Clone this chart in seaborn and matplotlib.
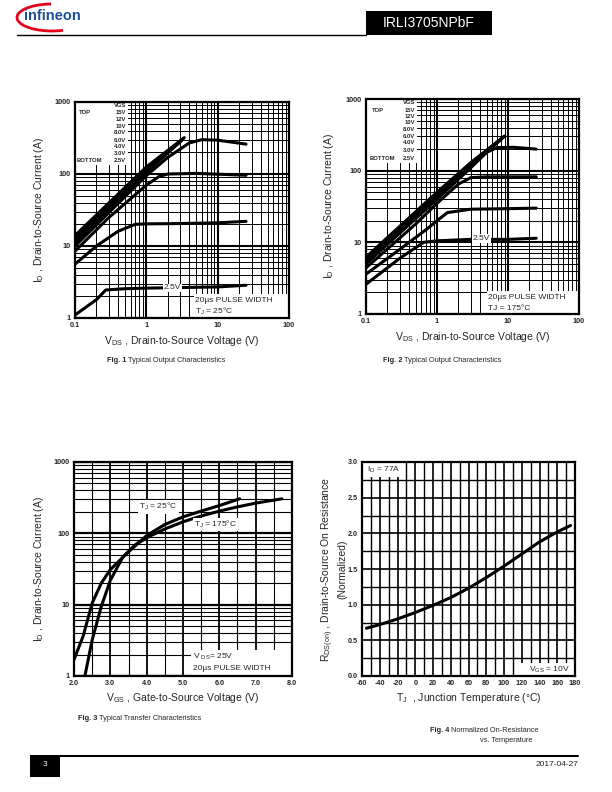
import numpy as np
import pandas as pd
import matplotlib
matplotlib.use("Agg")
import matplotlib.pyplot as plt
import seaborn as sns
from matplotlib.patches import Rectangle, Arc
from matplotlib.lines import Line2D
from matplotlib.ticker import LogLocator, MultipleLocator, NullFormatter

# ---- Fig. 1: output characteristics, TJ = 25 C ----
f1_vds_15v = [0.1, 1.0, 3.4]
f1_id_15v = [14, 125, 320]
f1_vds_12v = [0.1, 1.0, 3.3]
f1_id_12v = [13, 118, 310]
f1_vds_10v = [0.1, 1.0, 3.2]
f1_id_10v = [12, 112, 300]
f1_vds_8v = [0.1, 1.0, 3.1]
f1_id_8v = [11, 105, 290]
f1_vds_6v = [0.1, 1.0, 2.0, 4.0, 6.0, 10, 25]
f1_id_6v = [10, 95, 170, 270, 300, 295, 260]
f1_vds_4v = [0.1, 0.3, 1.0, 1.5, 2.0, 5.0, 25]
f1_id_4v = [8.5, 25, 70, 92, 100, 102, 96]
f1_vds_3v = [0.1, 0.2, 0.4, 0.7, 1.0, 3.0, 10, 25]
f1_id_3v = [5.6, 10, 16, 20, 20.3, 20.5, 21, 22]
f1_vds_25v = [0.1, 0.2, 0.27, 0.5, 1.0, 3.0, 10, 25]
f1_id_25v = [1.1, 1.8, 2.45, 2.55, 2.6, 2.65, 2.7, 2.85]

# ---- Fig. 2: output characteristics, TJ = 175 C ----
f2_vds_15v = [0.1, 1.0, 3.0, 9.0]
f2_id_15v = [6.2, 50, 130, 305]
f2_vds_12v = [0.1, 1.0, 3.0, 8.8]
f2_id_12v = [6.0, 48, 125, 300]
f2_vds_10v = [0.1, 1.0, 3.0, 8.5]
f2_id_10v = [5.7, 46, 120, 290]
f2_vds_8v = [0.1, 1.0, 3.0, 8.2]
f2_id_8v = [5.4, 44, 115, 280]
f2_vds_6v = [0.1, 1.0, 3.0, 5.0, 7.0, 12, 25]
f2_id_6v = [5.0, 40, 110, 180, 210, 212, 200]
f2_vds_4v = [0.1, 0.5, 1.0, 2.0, 3.0, 5.0, 25]
f2_id_4v = [4.4, 18, 35, 65, 80, 82, 82]
f2_vds_3v = [0.1, 0.3, 0.7, 1.0, 1.4, 3.0, 10, 25]
f2_id_3v = [3.6, 8.0, 15, 20, 26, 29, 29.5, 30]
f2_vds_25v = [0.1, 0.3, 0.65, 1.0, 3.0, 10, 25]
f2_id_25v = [2.6, 6.0, 10, 10.5, 11, 11, 11.4]

vgs_names = ["15V", "12V", "10V", "8.0V", "6.0V", "4.0V", "3.0V", "2.5V"]

# ---- Fig. 3: transfer characteristics ----
f3_vgs_25c = [2.0, 2.25, 2.5, 2.75, 3.0, 3.5, 4.0, 4.5, 5.0, 5.5, 6.0, 6.56]
f3_id_25c = [1.7, 3.6, 10.5, 20, 31, 55, 93, 133, 170, 205, 245, 305]
f3_vgs_175c = [2.3, 2.5, 2.75, 3.0, 3.35, 3.7, 4.1, 4.5, 5.0, 5.5, 6.0, 6.5, 7.0, 7.72]
f3_id_175c = [1.0, 3.2, 9.4, 22, 47, 70, 92, 115, 145, 175, 205, 235, 265, 305]

# ---- Fig. 4: normalized on-resistance ----
f4_tj = [-55, -40, -20, 0, 20, 40, 60, 80, 100, 120, 140, 160, 175]
f4_rds = [0.67, 0.72, 0.80, 0.89, 0.99, 1.10, 1.23, 1.38, 1.54, 1.71, 1.88, 2.02, 2.11]

log_ticks_x = [0.1, 1, 10, 100]
log_ticks_x_labels = ["0.1", "1", "10", "100"]
log_ticks_y = [1, 10, 100, 1000]
log_ticks_y_labels = ["1", "10", "100", "1000"]

sns.set_style("white")
plt.rcParams["font.family"] = ["Liberation Sans", "DejaVu Sans"]
plt.rcParams["mathtext.default"] = "regular"

W, H = 612, 792
fig = plt.figure(figsize=(W / 100, H / 100), dpi=100)


def px_axes(left, top, right, bottom):
    return fig.add_axes([left / W, 1 - bottom / H, (right - left) / W, (bottom - top) / H])


def curves_df(pairs):
    rows = []
    for name, xs, ys in pairs:
        for x, y in zip(xs, ys):
            rows.append({"vgs": name, "x": x, "y": y})
    return pd.DataFrame(rows)


def style_frame(ax):
    for s in ax.spines.values():
        s.set_linewidth(1.6)
        s.set_color("black")
        s.set_zorder(6)
    ax.tick_params(which="both", length=0, labelsize=5.2, pad=3)
    for lab in ax.get_xticklabels() + ax.get_yticklabels():
        lab.set_fontweight("bold")


def log_log(ax):
    ax.set_xscale("log")
    ax.set_yscale("log")
    ax.set_xlim(0.1, 100)
    ax.set_ylim(1, 1000)
    ax.set_xticks(log_ticks_x, labels=log_ticks_x_labels)
    ax.set_yticks(log_ticks_y, labels=log_ticks_y_labels)
    ax.xaxis.set_minor_locator(LogLocator(base=10, subs=np.arange(2, 10)))
    ax.yaxis.set_minor_locator(LogLocator(base=10, subs=np.arange(2, 10)))
    ax.xaxis.set_minor_formatter(NullFormatter())
    ax.yaxis.set_minor_formatter(NullFormatter())
    ax.grid(which="major", color="black", lw=1.5)
    ax.grid(which="minor", color="black", lw=0.7)


def white_block(ax, x0, y0, w, h):
    ax.add_patch(Rectangle((x0, y0), w, h, transform=ax.transAxes, facecolor="white",
                           edgecolor="none", zorder=3))


def vgs_legend(ax, ys, left_px, right_px, x0, x1, top_y, bot_y):
    # white block with the VGS list, coordinates in page pixels
    ax.add_patch(Rectangle((x0 / W, 1 - bot_y / H), (x1 - x0) / W, (bot_y - top_y) / H,
                           facecolor="white", edgecolor="none", zorder=3,
                           transform=fig.transFigure))
    kw = dict(fontsize=4.2, fontweight="bold", va="center", zorder=4,
              transform=fig.transFigure)
    ax.text(right_px / W, 1 - ys[0] / H, "VGS", ha="right", **kw)
    for name, y in zip(vgs_names, ys[1:]):
        ax.text(right_px / W, 1 - y / H, name, ha="right", **kw)
    ax.text(left_px / W, 1 - ys[1] / H, "TOP", ha="left", **kw)
    ax.text((left_px - 2) / W, 1 - ys[-1] / H, "BOTTOM", ha="left", **kw)


# ---------------- Fig. 1 ----------------
ax1 = px_axes(75, 102, 289, 318)
df1 = curves_df([
    ("15V", f1_vds_15v, f1_id_15v), ("12V", f1_vds_12v, f1_id_12v),
    ("10V", f1_vds_10v, f1_id_10v), ("8.0V", f1_vds_8v, f1_id_8v),
    ("6.0V", f1_vds_6v, f1_id_6v), ("4.0V", f1_vds_4v, f1_id_4v),
    ("3.0V", f1_vds_3v, f1_id_3v), ("2.5V", f1_vds_25v, f1_id_25v),
])
sns.lineplot(data=df1, x="x", y="y", units="vgs", estimator=None, sort=False,
             color="black", lw=2.2, ax=ax1, zorder=2)
log_log(ax1)
ax1.set_xlabel(r"V$_{DS}$ , Drain-to-Source Voltage (V)", fontsize=7.5)
ax1.set_ylabel(r"I$_{D}$ , Drain-to-Source Current (A)", fontsize=7.5)
ax1.xaxis.set_label_coords(0.5, -0.075)
ax1.yaxis.set_label_coords(-0.135, 0.5)
ax1.text(2.3, 2.62, "2.5V", fontsize=6, ha="center", va="center",
         bbox=dict(facecolor="white", edgecolor="none", pad=0.6), zorder=4)
white_block(ax1, 0.556, 0.0, 0.444, 0.11)
ax1.text(0.56, 0.082, "20\u00b5s PULSE WIDTH", transform=ax1.transAxes, fontsize=6,
         ha="left", va="center", zorder=4)
ax1.text(0.56, 0.03, r"T$_{J}$ = 25°C", transform=ax1.transAxes, fontsize=6,
         ha="left", va="center", zorder=4)
style_frame(ax1)
vgs_legend(ax1, [105.5, 113, 119.5, 126, 133, 140, 147, 153.5, 160.5], 79, 126, 75, 128, 102, 165)

# ---------------- Fig. 2 ----------------
ax2 = px_axes(366, 99, 579, 314)
df2 = curves_df([
    ("15V", f2_vds_15v, f2_id_15v), ("12V", f2_vds_12v, f2_id_12v),
    ("10V", f2_vds_10v, f2_id_10v), ("8.0V", f2_vds_8v, f2_id_8v),
    ("6.0V", f2_vds_6v, f2_id_6v), ("4.0V", f2_vds_4v, f2_id_4v),
    ("3.0V", f2_vds_3v, f2_id_3v), ("2.5V", f2_vds_25v, f2_id_25v),
])
sns.lineplot(data=df2, x="x", y="y", units="vgs", estimator=None, sort=False,
             color="black", lw=2.2, ax=ax2, zorder=2)
log_log(ax2)
ax2.set_xlabel(r"V$_{DS}$ , Drain-to-Source Voltage (V)", fontsize=7.5)
ax2.set_ylabel(r"I$_{D}$ , Drain-to-Source Current (A)", fontsize=7.5)
ax2.xaxis.set_label_coords(0.5, -0.075)
ax2.yaxis.set_label_coords(-0.14, 0.5)
ax2.text(4.2, 11.2, "2.5V", fontsize=6, ha="center", va="center",
         bbox=dict(facecolor="white", edgecolor="none", pad=0.6), zorder=4)
white_block(ax2, 0.568, 0.0, 0.432, 0.105)
ax2.text(0.573, 0.077, "20\u00b5s PULSE WIDTH", transform=ax2.transAxes, fontsize=6,
         ha="left", va="center", zorder=4)
ax2.text(0.573, 0.027, "TJ = 175°C", transform=ax2.transAxes, fontsize=6,
         ha="left", va="center", zorder=4)
style_frame(ax2)
vgs_legend(ax2, [103, 110, 116, 122.5, 129.5, 136, 143, 150.5, 158.5], 372, 415, 366, 417, 99, 163)

# ---------------- Fig. 3 ----------------
ax3 = px_axes(74, 462, 292, 676)
df3 = curves_df([("25", f3_vgs_25c, f3_id_25c), ("175", f3_vgs_175c, f3_id_175c)])
sns.lineplot(data=df3, x="x", y="y", units="vgs", estimator=None, sort=False,
             color="black", lw=2.2, ax=ax3, zorder=2)
ax3.set_yscale("log")
ax3.set_xlim(2.0, 8.0)
ax3.set_ylim(1, 1000)
ax3.set_xticks(np.arange(2, 9), labels=[f"{v:.1f}" for v in np.arange(2, 9)])
ax3.xaxis.set_minor_locator(MultipleLocator(0.5))
ax3.set_yticks(log_ticks_y, labels=log_ticks_y_labels)
ax3.yaxis.set_minor_locator(LogLocator(base=10, subs=np.arange(2, 10)))
ax3.yaxis.set_minor_formatter(NullFormatter())
ax3.grid(which="major", color="black", lw=1.3)
ax3.grid(which="minor", color="black", lw=0.8)
ax3.grid(which="major", axis="y", color="black", lw=1.6)
ax3.set_xlabel(r"V$_{GS}$ , Gate-to-Source Voltage (V)", fontsize=7.5)
ax3.set_ylabel(r"I$_{D}$ , Drain-to-Source Current (A)", fontsize=7.5)
ax3.xaxis.set_label_coords(0.5, -0.07)
ax3.yaxis.set_label_coords(-0.13, 0.5)
lbl_box = dict(facecolor="white", edgecolor="none", pad=0.8)
ax3.text(3.8, 235, r"T$_{J}$ = 25°C", fontsize=6, ha="left", va="center", bbox=lbl_box, zorder=4)
ax3.text(5.3, 132, r"T$_{J}$ = 175°C", fontsize=6, ha="left", va="center", bbox=lbl_box, zorder=4)
white_block(ax3, 0.537, 0.0, 0.463, 0.12)
ax3.text(0.545, 0.09, r"V $_{DS}$= 25V", transform=ax3.transAxes, fontsize=6,
         ha="left", va="center", zorder=4)
ax3.text(0.545, 0.033, "20\u00b5s PULSE WIDTH", transform=ax3.transAxes, fontsize=6,
         ha="left", va="center", zorder=4)
style_frame(ax3)

# ---------------- Fig. 4 ----------------
ax4 = px_axes(362, 462, 575, 676)
df4 = pd.DataFrame({"tj": f4_tj, "rds": f4_rds})
sns.lineplot(data=df4, x="tj", y="rds", color="black", lw=2.2, ax=ax4, zorder=2)
ax4.set_xlim(-60, 180)
ax4.set_ylim(0, 3.0)
ax4.set_xticks(np.arange(-60, 181, 20), labels=[str(v) for v in range(-60, 181, 20)])
ax4.set_yticks(np.arange(0, 3.01, 0.5), labels=[f"{v:.1f}" for v in np.arange(0, 3.01, 0.5)])
ax4.xaxis.set_minor_locator(MultipleLocator(10))
ax4.yaxis.set_minor_locator(MultipleLocator(0.25))
ax4.grid(which="major", color="black", lw=1.2)
ax4.grid(which="minor", color="black", lw=1.0)
ax4.set_xlabel(r"T$_{J}$  , Junction Temperature (°C)", fontsize=7.5)
ax4.set_ylabel("")
ax4.xaxis.set_label_coords(0.5, -0.07)
fig.text(328 / W, 1 - 569 / H, r"R$_{DS(on)}$ , Drain-to-Source On Resistance",
         rotation=90, fontsize=7.5, ha="center", va="center")
fig.text(342 / W, 1 - 569 / H, "(Normalized)", rotation=90, fontsize=7.5,
         ha="center", va="center")
white_block(ax4, 0.0, 0.93, 0.2, 0.07)
ax4.text(0.025, 0.965, r"I$_{D}$ = 77A", transform=ax4.transAxes, fontsize=6,
         ha="left", va="center", zorder=4)
white_block(ax4, 0.735, 0.0, 0.265, 0.06)
ax4.text(0.975, 0.03, r"V$_{GS}$ = 10V", transform=ax4.transAxes, fontsize=6,
         ha="right", va="center", zorder=4)
style_frame(ax4)


# ---------------- captions ----------------
def caption(xc, y, num, title):
    fig.text(xc / W, 1 - y / H, f"Fig. {num} ", fontsize=5.3, fontweight="bold",
             ha="right", va="center")
    fig.text(xc / W, 1 - y / H, title, fontsize=5.3, ha="left", va="center")


caption(128, 360, 1, "Typical Output Characteristics")
caption(404, 360, 2, "Typical Output Characteristics")
caption(99, 719, 3, "Typical Transfer Characteristics")
caption(451, 730, 4, "Normalized On-Resistance")
fig.text(506 / W, 1 - 741 / H, "vs. Temperature", fontsize=5.3, ha="center", va="center")

# ---------------- header ----------------
fig.add_artist(Arc((52 / W, 1 - 17.5 / H), 70 / W, 27 / H, theta1=95, theta2=318,
                   color="#e2001a", lw=2.0, transform=fig.transFigure))
fig.text(24 / W, 1 - 20.5 / H, "infineon", fontsize=10.5, fontweight="bold",
         color="#1b4f9c", ha="left", va="baseline")
fig.add_artist(Line2D([17 / W, 366 / W], [1 - 34.5 / H] * 2, color="black", lw=1.0,
                      transform=fig.transFigure))
fig.add_artist(Rectangle((366 / W, 1 - 35 / H), 126 / W, 24 / H, facecolor="black",
                         edgecolor="none", transform=fig.transFigure))
fig.text(429 / W, 1 - 23 / H, "IRLI3705NPbF", fontsize=10, color="white",
         ha="center", va="center")

# ---------------- footer ----------------
fig.add_artist(Rectangle((30 / W, 1 - 777 / H), 30 / W, 22 / H, facecolor="black",
                         edgecolor="none", transform=fig.transFigure))
fig.text(45 / W, 1 - 765 / H, "3", fontsize=6, color="white", ha="center", va="center")
fig.add_artist(Line2D([60 / W, 578 / W], [1 - 756 / H] * 2, color="black", lw=1.5,
                      transform=fig.transFigure))
fig.text(578 / W, 1 - 764 / H, "2017-04-27", fontsize=6, ha="right", va="center")

fig.savefig("out.png", dpi=100)
